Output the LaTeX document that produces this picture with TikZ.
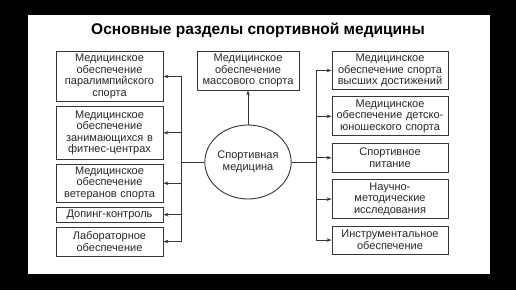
\documentclass[tikz,border=0pt]{standalone}
\usepackage{fontspec}
\setmainfont{Liberation Sans}
\usepackage{tikz}
\usetikzlibrary{positioning, shapes.geometric, arrows.meta, calc}
\definecolor{framegray}{RGB}{55, 55, 55}
\definecolor{textgray}{RGB}{40, 40, 40}
\definecolor{screenblack}{RGB}{0, 0, 0}

\begin{document}
\begin{tikzpicture}[x=1pt, y=1pt, >={Stealth[length=5pt, width=3.6pt]},
    every node/.style={font=\fontsize{11}{11.6}\selectfont, text=textgray},
    razdel/.style={draw=framegray, line width=0.9pt, rectangle, inner sep=2pt, text centered, fill=white},
    svyaz/.style={draw=framegray, line width=0.9pt}]
    % Screen and white sheet
    \fill [screenblack] (0,0) rectangle (516,290);
    \fill [white] (28,16) rectangle (490,275);
    \useasboundingbox (0,0) rectangle (516,290);

    % Title
    \node [font=\fontsize{15.5}{18}\selectfont\bfseries, text=black] (title) at (258,260) {Основные разделы спортивной медицины};

    % Centre: the ellipse and the box above it
    \node [draw=framegray, line width=0.9pt, ellipse, minimum width=82pt, minimum height=74pt, inner sep=0pt, align=center] (sport) at (248,128) {Спортивная\\медицина};
    \node [razdel, text width=98pt, minimum height=39pt] (massovyj) at (248,219.5) {Медицинское\\обеспечение\\массового спорта};

    % Left column
    \node [razdel, text width=103pt, minimum height=50pt, anchor=north] (paralimp) at (109.5,239) {Медицинское\\обеспечение\\паралимпийского\\спорта};
    \node [razdel, text width=103pt, minimum height=53pt, below=4pt of paralimp] (fitnes) {Медицинское\\обеспечение\\занимающихся в\\фитнес-центрах};
    \node [razdel, text width=103pt, minimum height=38pt, below=4pt of fitnes] (veteran) {Медицинское\\обеспечение\\ветеранов спорта};
    \node [razdel, text width=103pt, minimum height=15pt, below=4pt of veteran] (doping) {Допинг-контроль};
    \node [razdel, text width=103pt, minimum height=29pt, below=4pt of doping] (labor) {Лабораторное\\обеспечение};

    % Right column
    \node [razdel, text width=112pt, minimum height=38pt, anchor=north] (vysshih) at (390,239) {Медицинское\\обеспечение спорта\\высших достижений};
    \node [razdel, text width=112pt, minimum height=39pt, below=6.5pt of vysshih] (detskij) {Медицинское\\обеспечение детско-\\юношеского спорта};
    \node [razdel, text width=112pt, minimum height=29pt, below=6.5pt of detskij] (pitanie) {Спортивное\\питание};
    \node [razdel, text width=112pt, minimum height=39pt, below=6.5pt of pitanie] (nauka) {Научно-\\методические\\исследования};
    \node [razdel, text width=112pt, minimum height=28pt, below=6.5pt of nauka] (instrum) {Инструментальное\\обеспечение};

    % Trunks
    \coordinate (levyj) at (181,128);
    \coordinate (pravyj) at (316,128);

    % Connectors
    \draw [svyaz, ->] (sport.north) -- (massovyj.south);
    \draw [svyaz] (sport.west) -- (levyj);
    \draw [svyaz] (sport.east) -- (pravyj);
    \draw [svyaz] (levyj |- paralimp.east) -- (levyj |- labor.east);
    \draw [svyaz] (pravyj |- vysshih.west) -- (pravyj |- instrum.west);
    \foreach \razd in {paralimp, fitnes, veteran, doping, labor}
        \draw [svyaz, ->] (levyj |- \razd.east) -- (\razd.east);
    \foreach \razd in {vysshih, detskij, pitanie, nauka, instrum}
        \draw [svyaz, ->] (pravyj |- \razd.west) -- (\razd.west);
\end{tikzpicture}
\end{document}
